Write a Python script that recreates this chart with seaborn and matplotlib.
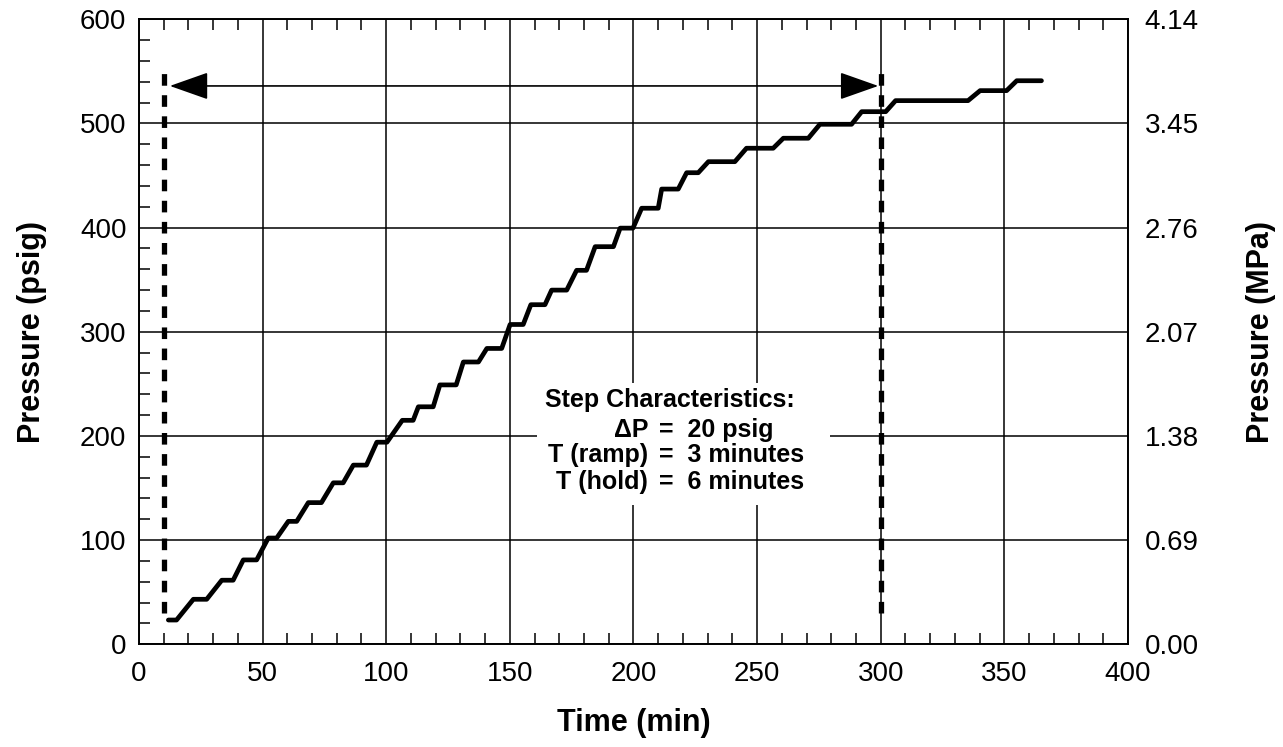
import numpy as np
import pandas as pd
import matplotlib
matplotlib.use("Agg")
import matplotlib.pyplot as plt
import seaborn as sns
from matplotlib.ticker import MultipleLocator, NullLocator
from matplotlib.patches import Rectangle

# ---- data ----
hold_start = [11.9, 22.0, 33.5, 42.2, 52.3, 60.4, 68.5, 78.6, 86.7, 96.2,
              106.5, 113.0, 121.7, 131.2, 140.7, 150.1, 158.5, 166.9, 177.0, 184.5,
              194.6, 203.3, 211.4, 221.5, 230.3, 245.7, 260.6, 275.4, 292.3, 306.0,
              340.2, 355.0]
hold_end = [15.2, 27.4, 38.1, 47.6, 55.7, 63.8, 73.8, 82.6, 92.0, 100.3,
            110.9, 119.0, 128.3, 137.3, 146.7, 155.4, 164.2, 173.0, 181.0, 191.9,
            199.8, 210.0, 218.1, 226.2, 241.0, 256.5, 270.7, 288.2, 302.0, 335.3,
            350.9, 365.0]
hold_psig = [23.3, 43.2, 61.5, 81.0, 102.0, 118.0, 136.0, 155.0, 172.0, 194.0,
             215.0, 228.0, 249.0, 271.0, 284.0, 307.0, 326.0, 340.0, 359.0, 381.7,
             399.5, 418.6, 437.0, 452.7, 463.3, 476.2, 485.8, 499.2, 511.3, 521.9,
             531.5, 541.0]

x_ticks = [0, 50, 100, 150, 200, 250, 300, 350, 400]
y_ticks = [0, 100, 200, 300, 400, 500, 600]
mpa_labels = ["0.00", "0.69", "1.38", "2.07", "2.76", "3.45", "4.14"]

marker_times = [10, 300]        # dashed vertical markers
marker_psig = [30, 552]         # vertical extent of the markers
arrow_psig = 536                # level of the double arrow
arrow_times = [12.5, 299]

note_title = "Step Characteristics:"
note_left = ["\u0394P", "T (ramp)", "T (hold)"]
note_right = ["=  20 psig", "=  3 minutes", "=  6 minutes"]

# ---- build curve ----
t_pts, p_pts = [], []
for s, e, p in zip(hold_start, hold_end, hold_psig):
    t_pts += [s, e]
    p_pts += [p, p]
curve = pd.DataFrame({"t": t_pts, "p": p_pts})

sns.set_theme(style="white")
plt.rcParams["font.family"] = ["Liberation Sans", "DejaVu Sans"]
plt.rcParams["text.color"] = "black"
plt.rcParams["axes.labelcolor"] = "black"
plt.rcParams["xtick.color"] = "black"
plt.rcParams["ytick.color"] = "black"

fig = plt.figure(figsize=(12.83, 7.47), dpi=100)
ax = fig.add_axes([0.1083, 0.1375, 0.7709, 0.8367])

ax.set_xlim(0, 400)
ax.set_ylim(0, 600)
ax.set_xticks(x_ticks)
ax.set_yticks(y_ticks)
ax.xaxis.set_minor_locator(MultipleLocator(10))
ax.yaxis.set_minor_locator(MultipleLocator(20))
ax.grid(True, which="major", color="black", linewidth=1.1)
ax.set_axisbelow(True)

for sp in ax.spines.values():
    sp.set_color("black")
    sp.set_linewidth(1.4)

ax.tick_params(which="major", length=0, labelsize=20, colors="black")
ax.tick_params(axis="x", which="major", pad=12)
ax.tick_params(axis="y", which="major", pad=9)
ax.tick_params(which="minor", direction="in", length=8, width=1.1,
               top=True, bottom=True, left=True, right=True, color="black")

# white box behind the note
ax.add_patch(Rectangle((161, 134), 118.5, 117, facecolor="white",
                       edgecolor="none", zorder=1))

sns.lineplot(data=curve, x="t", y="p", sort=False, estimator=None,
             color="black", linewidth=3.4, ax=ax, zorder=4)

for mt in marker_times:
    ax.plot([mt, mt], marker_psig, color="black", linewidth=3.8,
            linestyle=(0, (2.2, 1.8)), zorder=5)

ax.annotate("", xy=(arrow_times[0], arrow_psig), xytext=(arrow_times[1], arrow_psig),
            arrowprops=dict(arrowstyle="<|-|>,head_length=1.7,head_width=0.6",
                            mutation_scale=14.4, color="black", lw=1.2,
                            shrinkA=0, shrinkB=0), zorder=5)

note_fs = 18
ax.text(164.2, 234.6, note_title, fontsize=note_fs, fontweight="bold",
        ha="left", va="center", zorder=6)
for i, (l, r) in enumerate(zip(note_left, note_right)):
    yy = [205.7, 181.7, 155.8][i]
    ax.text(205.9, yy, l, fontsize=note_fs, fontweight="bold", ha="right",
            va="center", zorder=6)
    ax.text(210.2, yy, r, fontsize=note_fs, fontweight="bold", ha="left",
            va="center", zorder=6)

ax.set_xlabel("Time (min)", fontsize=22, fontweight="bold", labelpad=15)
ax.set_ylabel("Pressure (psig)", fontsize=22, fontweight="bold", labelpad=24)

ax2 = ax.twinx()
ax2.set_ylim(0, 600)
ax2.set_yticks(y_ticks)
ax2.set_yticklabels(mpa_labels)
ax2.yaxis.set_minor_locator(NullLocator())
ax2.tick_params(which="major", length=0, labelsize=20, pad=12, colors="black")
ax2.grid(False)
for sp in ax2.spines.values():
    sp.set_visible(False)
ax2.set_ylabel("Pressure (MPa)", fontsize=22, fontweight="bold", labelpad=34)

fig.savefig("out.png", dpi=100, facecolor="white")
